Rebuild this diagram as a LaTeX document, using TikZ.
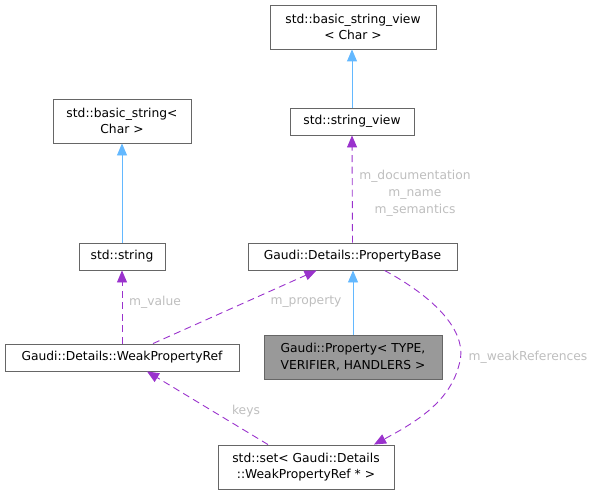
\documentclass[tikz,border=0pt]{standalone}
\usepackage{fontspec}
\setmainfont{DejaVu Sans}
\usetikzlibrary{arrows.meta}
\definecolor{boxline}{HTML}{666666}
\definecolor{inh}{HTML}{63B8FF}
\definecolor{use}{HTML}{9A32CD}
\definecolor{lbl}{HTML}{BEBEBE}
\definecolor{curfill}{HTML}{999999}
\begin{document}
\begin{tikzpicture}[x=1pt,y=-1pt,
  cls/.style={draw=boxline,line width=0.9pt,fill=white,inner sep=0pt,align=center,font=\fontsize{12.3}{16.5}\selectfont},
  inhedge/.style={draw=inh,line width=0.9pt,-{Triangle[length=12pt,width=10pt]}},
  useedge/.style={draw=use,line width=0.9pt,dash pattern=on 7pt off 4.5pt,-{Triangle[length=12pt,width=10pt]}},
  elabel/.style={text=lbl,font=\fontsize{12.3}{16.8}\selectfont,align=center,inner sep=0pt}]
\useasboundingbox (0,0) rectangle (599,495);
\node[cls,minimum width=166pt,minimum height=44pt] (bsv) at (353,27) {std::basic\_string\_view\\< Char >};
\node[cls,minimum width=124pt,minimum height=27pt] (sv) at (352,121.5) {std::string\_view};
\node[cls,minimum width=138pt,minimum height=44pt] (bs) at (122,121) {std::basic\_string<\\Char >};
\node[cls,minimum width=86pt,minimum height=27pt] (str) at (122,256.5) {std::string};
\node[cls,minimum width=209pt,minimum height=27pt] (pb) at (352.5,256.5) {Gaudi::Details::PropertyBase};
\node[cls,minimum width=234pt,minimum height=27pt] (wpr) at (122,357.5) {Gaudi::Details::WeakPropertyRef};
\node[cls,fill=curfill,minimum width=178pt,minimum height=44pt] (prop) at (353,357) {Gaudi::Property< TYPE,\\ VERIFIER, HANDLERS >};
\node[cls,minimum width=176pt,minimum height=44pt] (set) at (306,467) {std::set< Gaudi::Details\\::WeakPropertyRef * >};

\draw[inhedge] (sv.north) -- (sv.north |- bsv.south);
\draw[inhedge] (str.north) -- (bs.south);
\draw[useedge] (pb.north) -- (sv.south);
\draw[useedge] (wpr.north) -- (str.south);
\draw[inhedge] (prop.north) -- (prop.north |- pb.south);
\coordinate (wprtop) at ([xshift=31pt]wpr.north);
\coordinate (pbbot) at ([xshift=-36pt]pb.south);
\draw[useedge] (wprtop) -- (pbbot);
\coordinate (settop) at ([xshift=-38pt]set.north);
\coordinate (wprbot) at ([xshift=25pt]wpr.south);
\draw[useedge] (settop) -- (wprbot);
\coordinate (pbbr) at ([xshift=32pt]pb.south);
\coordinate (settr) at ([xshift=68pt]set.north);
\draw[useedge] (pbbr) .. controls (430,295) and (470,330) .. (459,365) .. controls (450,400) and (420,420) .. (settr);

\node[elabel] (l1) at (415,193) {m\_documentation\\m\_name\\m\_semantics};
\node[elabel] (l2) at (155,302) {m\_value};
\node[elabel] (l3) at (306,302) {m\_property};
\node[elabel] (l4) at (528,357) {m\_weakReferences};
\node[elabel] (l5) at (246,411) {keys};
\end{tikzpicture}
\end{document}
